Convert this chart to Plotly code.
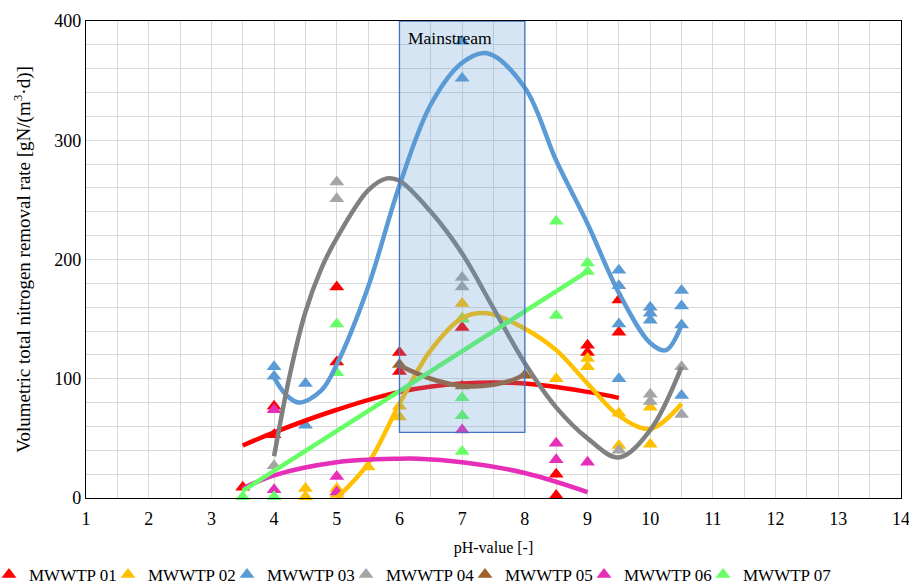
import plotly.graph_objects as go

# Measured removal rates per plant (pH, rate in gN/(m3*d))
ph_01 = [3.5, 4, 4, 5, 5, 6, 6, 7, 8.5, 8.5, 9, 9, 9.5, 9.5]
rate_01 = [9, 77, 53, 177, 114, 122, 106, 143, 2, 20, 128, 122, 166, 139]

ph_02 = [4.5, 4.5, 5, 5, 5.5, 6, 6, 7, 7, 8.5, 9, 9, 9.5, 9.5, 10, 10]
rate_02 = [8, 1, 8, 3, 26, 77, 68, 163, 151, 100, 117, 110, 71, 44, 76, 45]

ph_03 = [4, 4, 4.5, 4.5, 7, 7, 9.5, 9.5, 9.5, 9.5, 10, 10, 10, 10.5, 10.5, 10.5, 10.5]
rate_03 = [110, 102, 96, 61, 383, 352, 191, 178, 146, 100, 160, 155, 149, 174, 161, 145, 86]

ph_04 = [4, 5, 5, 7, 7, 9.5, 10, 10, 10.5, 10.5]
rate_04 = [27, 265, 251, 185, 177, 40, 87, 81, 70, 110]

ph_05 = [6, 7, 8]
rate_05 = [112, 94, 103]

ph_06 = [4, 4, 5, 5, 7, 8.5, 8.5, 9]
rate_06 = [74, 7, 18, 5, 57, 46, 32, 30]

ph_07 = [3.5, 4, 5, 5, 7, 7, 7, 7, 8.5, 8.5, 9, 9]
rate_07 = [1, 1, 146, 105, 150, 84, 69, 39, 232, 153, 197, 190]

# Trendline traces (pH, rate) for each plant
trend_x_01 = [3.5, 4, 5, 6, 7, 8, 9, 9.5]
trend_y_01 = [44, 55, 74, 89, 96, 96, 89, 84]

trend_x_02 = [5, 5.5, 6, 6.5, 7, 7.4, 8, 8.5, 9, 9.5, 10, 10.5]
trend_y_02 = [0, 29, 79, 124, 151, 155, 142, 124, 96, 69, 58, 79]

trend_x_03 = [4, 4.2, 4.4, 4.75, 5, 5.5, 6, 6.5, 7, 7.4, 8, 8.5, 9, 9.5, 10, 10.25, 10.5]
trend_y_03 = [101, 86, 80, 90, 112, 177, 262, 330, 365, 373, 344, 283, 230, 172, 130, 124, 145]

trend_x_04 = [4, 4.25, 4.5, 4.75, 5, 5.5, 5.8, 6, 6.5, 7, 7.5, 8, 8.5, 9, 9.5, 10, 10.5]
trend_y_04 = [35, 103, 156, 192, 218, 258, 268, 266, 240, 205, 159, 113, 76, 50, 34, 57, 110]

trend_x_05 = [6, 6.5, 7, 7.5, 7.9, 8]
trend_y_05 = [111, 100, 94, 95, 101, 105]

trend_x_06 = [3.5, 4, 5, 6, 6.3, 7, 8, 9]
trend_y_06 = [8, 19, 30, 33, 33, 30, 21, 5]

trend_x_07 = [3.5, 9]
trend_y_07 = [6, 190]

names = ["MWWTP 01", "MWWTP 02", "MWWTP 03", "MWWTP 04",
         "MWWTP 05", "MWWTP 06", "MWWTP 07"]
marker_colors = ["#FF0000", "#FFC000", "#5B9BD5", "#A5A5A5",
                 "#A0602A", "#E62EB8", "#66FF66"]
line_colors = ["#FF0000", "#FFC000", "#5B9BD5", "#808080",
               "#A0602A", "#E62EB8", "#66FF66"]

points = [(ph_01, rate_01), (ph_02, rate_02), (ph_03, rate_03), (ph_04, rate_04),
          (ph_05, rate_05), (ph_06, rate_06), (ph_07, rate_07)]
trends = [(trend_x_01, trend_y_01), (trend_x_02, trend_y_02), (trend_x_03, trend_y_03),
          (trend_x_04, trend_y_04), (trend_x_05, trend_y_05), (trend_x_06, trend_y_06),
          (trend_x_07, trend_y_07)]

SERIF = "Liberation Serif"
W, H = 909, 588
ML, MR, MT, MB = 86, 8, 21, 90
plot_w = W - ML - MR

# one legend box per plant, laid out in a single row with an even stride
legend_ids = ["legend"] + [f"legend{i}" for i in range(2, len(names) + 1)]
legend_start_px = -11
legend_stride_px = 119

fig = go.Figure()

for name, color, lg, (px, py) in zip(names, marker_colors, legend_ids, points):
    fig.add_trace(go.Scatter(
        x=px, y=py, mode="markers", name=name, legend=lg,
        marker=dict(symbol="triangle-up", size=13, color=color),
        cliponaxis=False, showlegend=True,
    ))

for name, color, (tx, ty) in zip(names, line_colors, trends):
    fig.add_trace(go.Scatter(
        x=tx, y=ty, mode="lines", name=name + " trend",
        line=dict(color=color, width=4.5, shape="spline", smoothing=1.0),
        showlegend=False, hoverinfo="skip",
    ))

# Mainstream pH window
fig.add_shape(type="rect", xref="x", yref="y", x0=6, x1=8, y0=55, y1=400,
              fillcolor="rgba(91,155,213,0.26)",
              line=dict(color="#4472C4", width=1.3), layer="above")
fig.add_annotation(x=6.1, y=396, xref="x", yref="y", text="Mainstream",
                   showarrow=False, xanchor="left", yanchor="top",
                   font=dict(family=SERIF, size=17.5, color="#000000"))

grid = "#D9D9D9"
fig.update_xaxes(
    range=[1, 14], tick0=1, dtick=1, showgrid=True, gridcolor=grid, gridwidth=1,
    minor=dict(dtick=0.5, showgrid=True, gridcolor=grid, gridwidth=1),
    showline=True, linecolor="#000000", linewidth=1.3, mirror=True,
    ticks="", zeroline=False, automargin=True, ticklabelstandoff=4,
    ticklabeloverflow="allow",
    tickfont=dict(family=SERIF, size=18, color="#000000"),
    title=dict(text="pH-value [-]", font=dict(family=SERIF, size=16, color="#000000"),
               standoff=14),
)
fig.update_yaxes(
    range=[0, 400], tick0=0, dtick=100, showgrid=True, gridcolor=grid, gridwidth=1,
    minor=dict(dtick=20, showgrid=True, gridcolor=grid, gridwidth=1),
    showline=True, linecolor="#000000", linewidth=1.3, mirror=True,
    ticks="", zeroline=False, automargin=True,
    tickfont=dict(family=SERIF, size=18, color="#000000"),
    title=dict(text="Volumetric total nitrogen removal rate [gN/(m<sup>3</sup>·d)]",
               font=dict(family=SERIF, size=19, color="#000000"), standoff=18),
)

legend_style = dict(orientation="h", xref="paper", yref="paper",
                    y=-0.1614, xanchor="left", yanchor="middle",
                    font=dict(family=SERIF, size=17, color="#000000"),
                    itemwidth=30, bgcolor="rgba(0,0,0,0)")
legend_layout = {
    lg: dict(x=(legend_start_px + i * legend_stride_px - ML) / plot_w, **legend_style)
    for i, lg in enumerate(legend_ids)
}

fig.update_layout(
    width=W, height=H,
    margin=dict(l=ML, r=MR, t=MT, b=MB, autoexpand=False),
    paper_bgcolor="white", plot_bgcolor="white",
    showlegend=True,
    **legend_layout,
)

fig.write_html("out.html")
